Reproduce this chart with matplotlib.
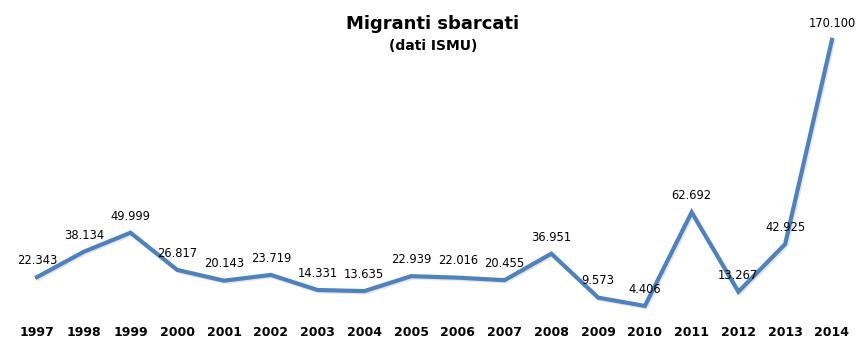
import matplotlib
matplotlib.use("Agg")
import matplotlib.pyplot as plt
import matplotlib.patheffects as pe

years = ["1997", "1998", "1999", "2000", "2001", "2002", "2003", "2004", "2005",
         "2006", "2007", "2008", "2009", "2010", "2011", "2012", "2013", "2014"]
migranti = [22343, 38134, 49999, 26817, 20143, 23719, 14331, 13635, 22939,
            22016, 20455, 36951, 9573, 4406, 62692, 13267, 42925, 170100]
etichette = ["22.343", "38.134", "49.999", "26.817", "20.143", "23.719", "14.331",
             "13.635", "22.939", "22.016", "20.455", "36.951", "9.573", "4.406",
             "62.692", "13.267", "42.925", "170.100"]

W, H = 868, 348
fig = plt.figure(figsize=(W / 100, H / 100), dpi=100)
ax = fig.add_axes([13.6 / W, 35 / H, 841.7 / W, 289 / H])

x = list(range(len(years)))
ax.plot(x, migranti, color="#4F81BD", lw=3.0, solid_joinstyle="miter",
        path_effects=[pe.SimpleLineShadow(offset=(1.0, -1.0), shadow_color="#999999", alpha=0.25),
                      pe.Normal()])

lab_font = ["DejaVu Sans Condensed", "DejaVu Sans"]
for xi, v, t in zip(x, migranti, etichette):
    ax.annotate(t, (xi, v), xytext=(0, 12), textcoords="offset points",
                ha="center", va="center", fontsize=8.3, family=lab_font, color="#000000")

ax.set_xlim(-0.5, len(years) - 0.5)
ax.set_ylim(0, 180000)
ax.set_xticks(x)
ax.set_xticklabels(years, fontsize=9, fontweight="bold",
                   family=["DejaVu Sans Condensed", "DejaVu Sans"])
ax.tick_params(axis="x", length=0, pad=9)
ax.set_yticks([])
for s in ax.spines.values():
    s.set_visible(False)

fig.text(433 / W, 1 - 24 / H, "Migranti sbarcati", ha="center", va="center",
         fontsize=13, fontweight="bold", family=["DejaVu Sans Condensed", "DejaVu Sans"])
fig.text(433 / W, 1 - 46 / H, "(dati ISMU)", ha="center", va="center",
         fontsize=10, fontweight="bold", family=["DejaVu Sans Condensed", "DejaVu Sans"])

fig.savefig("out.png", dpi=100)
